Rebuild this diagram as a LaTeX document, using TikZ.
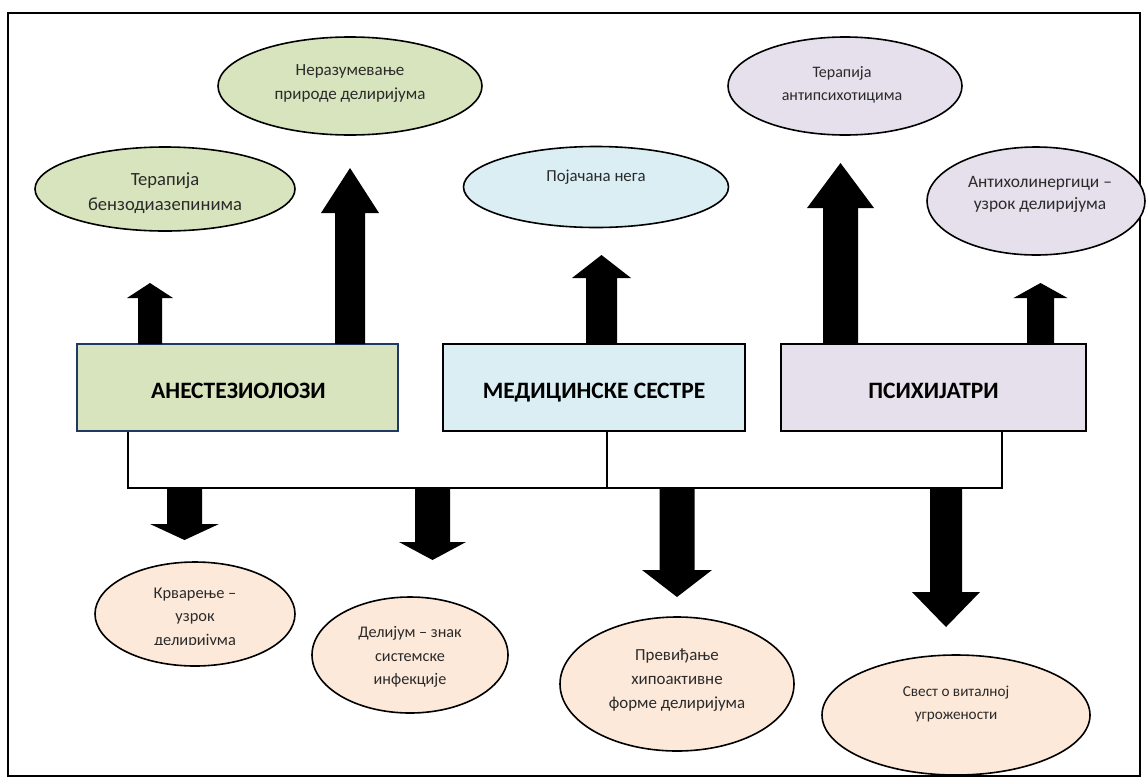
\documentclass[tikz,border=0pt]{standalone}
\usepackage{fontspec}
\setmainfont{Carlito}
\usetikzlibrary{shapes.geometric}
\definecolor{grn}{HTML}{D7E4BD}
\definecolor{blu}{HTML}{DAEEF3}
\definecolor{pur}{HTML}{E5E0EC}
\definecolor{pch}{HTML}{FDE9D9}
\definecolor{navy}{HTML}{1F3864}
\definecolor{txt}{HTML}{2A2A2A}
\tikzset{
  ell/.style={ellipse, draw=black, line width=1.6pt, inner sep=0pt},
  lbl/.style={align=center, text=txt, inner sep=0pt},
  box/.style={rectangle, draw=black, line width=2.4pt, inner sep=0pt},
  boxtext/.style={inner sep=0pt, anchor=base, font=\bfseries\fontsize{23.5}{28}\selectfont},
  bar/.style={line width=2pt},
  frame/.style={line width=2pt},
}
\newcommand\blkarrow[6]{%
  \fill[black] ({#1-#4},#2) -- ({#1-#4},#6) -- ({#1-#5},#6) -- (#1,#3)
    -- ({#1+#5},#6) -- ({#1+#4},#6) -- ({#1+#4},#2) -- cycle;}
\begin{document}
\begin{tikzpicture}[x=1pt,y=-1pt]
\useasboundingbox (0,0) rectangle (1147,782);
\draw[frame] (8,13) rectangle (1140,776);

% boxes
\node[box, fill=grn, draw=navy, minimum width=321pt, minimum height=87pt] (A) at (237.5,387.5) {};
\node[boxtext] (ta) at (238.5,398) {АНЕСТЕЗИОЛОЗИ};
\node[box, fill=blu, minimum width=302pt, minimum height=87pt] (B) at (594,387.5) {};
\node[boxtext] (tb) at (594,398) {МЕДИЦИНСКЕ СЕСТРЕ};
\node[box, fill=pur, minimum width=305pt, minimum height=87pt] (C) at (933.5,387.5) {};
\node[boxtext] (tc) at (933.5,398) {ПСИХИЈАТРИ};

% bracket
\coordinate (ja) at (128,488);
\coordinate (jb) at (607,488);
\coordinate (jc) at (1002,488);
\draw[bar] (A.south -| ja) -- (ja) -- (jc) -- (C.south -| jc);
\draw[bar] (B.south -| jb) -- (jb);

% up arrows
\blkarrow{150}{344}{283}{12}{23}{298}
\blkarrow{350}{344}{168}{15}{29}{213}
\blkarrow{601.5}{344}{255}{15.5}{29.5}{278}
\blkarrow{840.5}{344}{163}{17.5}{33.5}{208}
\blkarrow{1040.5}{344}{283}{13.5}{27}{298}

% down arrows
\blkarrow{184.5}{489}{540}{17.5}{34.5}{524}
\blkarrow{432.5}{489}{560}{17.5}{33.5}{542}
\blkarrow{677}{489}{597}{17.5}{35}{570}
\blkarrow{946}{489}{627}{16}{34}{592}

% top ellipses
\node[ell, fill=grn, minimum width=260pt, minimum height=84pt] (e1) at (165,189) {};
\node[lbl, font=\fontsize{18.6}{25}\selectfont] (t1) at (165,193) {Терапија\\бензодиазепинима};
\node[ell, fill=grn, minimum width=264pt, minimum height=98pt] (e2) at (350,86) {};
\node[lbl, font=\fontsize{17}{24}\selectfont] (t2) at (350,83) {Неразумевање\\природе делиријума};
\node[ell, fill=blu, minimum width=265pt, minimum height=81pt] (e3) at (596,187) {};
\node[lbl, font=\fontsize{16.8}{22}\selectfont] (t3) at (596,177) {Појачана нега};
\node[ell, fill=pur, minimum width=234pt, minimum height=98pt] (e4) at (845,86) {};
\node[lbl, font=\fontsize{16}{23}\selectfont] (t4) at (842,84.5) {Терапија\\антипсихотицима};
\node[ell, fill=pur, minimum width=218pt, minimum height=108pt] (e5) at (1036,201) {};
\node[lbl, font=\fontsize{17.4}{22}\selectfont] (t5) at (1040,194) {Антихолинергици –\\узрок делиријума};

% bottom ellipses
\node[ell, fill=pch, minimum width=200pt, minimum height=104pt] (e6) at (195,614) {};
\begin{scope}
  \clip (100,570) rectangle (290,644);
  \node[lbl, font=\fontsize{16.4}{23.5}\selectfont] (t6) at (195,618) {Крварење –\\узрок\\делиријума};
\end{scope}
\node[ell, fill=pch, minimum width=196pt, minimum height=116pt] (e7) at (410,655) {};
\node[lbl, font=\fontsize{16.2}{23.5}\selectfont] (t7) at (410,657) {Делијум – знак\\системске\\инфекције};
\node[ell, fill=pch, minimum width=234pt, minimum height=134pt] (e8) at (677,684) {};
\node[lbl, font=\fontsize{16.9}{24}\selectfont] (t8) at (677,680) {Превиђање\\хипоактивне\\форме делиријума};
\node[ell, fill=pch, minimum width=268pt, minimum height=120pt] (e9) at (956,715) {};
\node[lbl, font=\fontsize{15.2}{23}\selectfont] (t9) at (956,704) {Свест о виталној\\угрожености};
\end{tikzpicture}
\end{document}
